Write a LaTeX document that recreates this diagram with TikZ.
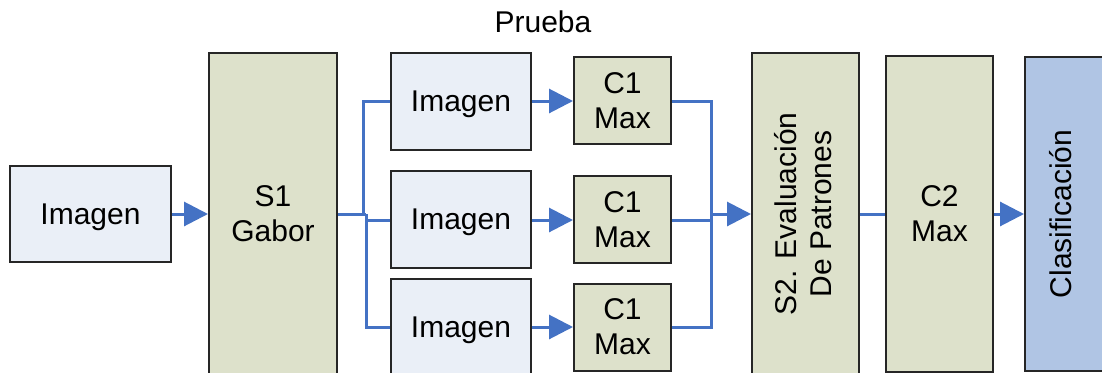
\documentclass[tikz,border=0pt]{standalone}
\usepackage{fontspec}
\setmainfont{Liberation Sans}
\usetikzlibrary{arrows.meta}
\definecolor{imgfill}{HTML}{EAEFF7}
\definecolor{stagefill}{HTML}{DDE1CB}
\definecolor{classfill}{HTML}{B0C5E4}
\definecolor{edgegray}{HTML}{262626}
\definecolor{wire}{HTML}{4472C4}
\tikzset{
  txt/.style={align=center, font=\fontsize{30}{35}\selectfont, text depth=-3pt},
  box/.style={draw=edgegray, line width=2pt, inner sep=0pt, txt},
  imgbox/.style={box, fill=imgfill},
  stagebox/.style={box, fill=stagefill},
  classbox/.style={box, fill=classfill},
  label/.style={inner sep=0pt, txt},
  wireline/.style={draw=wire, line width=3pt},
  flow/.style={wireline, -{Triangle[length=24pt,width=24pt]}},
}
\begin{document}
\begin{tikzpicture}[x=1pt,y=-1pt]
\useasboundingbox (0,0) rectangle (1102,372);
\clip (0,0) rectangle (1102,372);

% title
\node[label] (title) at (543,22) {Prueba};

% input image and Gabor stage
\node[imgbox, minimum width=161pt, minimum height=96pt] (img0) at (90.5,214) {Imagen};
\node[stagebox, minimum width=128pt, minimum height=322pt] (s1) at (273,214) {S1\\Gabor};

% three image branches
\node[imgbox, minimum width=140pt, minimum height=97pt] (i1) at (461,101.5) {Imagen};
\node[imgbox, minimum width=140pt, minimum height=97pt] (i2) at (461,219.5) {Imagen};
\node[imgbox, minimum width=140pt, minimum height=97pt] (i3) at (461,327) {Imagen};

% C1 max pooling
\node[stagebox, minimum width=97pt, minimum height=87pt] (c1a) at (622.5,100.5) {C1\\Max};
\node[stagebox, minimum width=97pt, minimum height=87pt] (c1b) at (622.5,219.5) {C1\\Max};
\node[stagebox, minimum width=97pt, minimum height=87pt] (c1c) at (622.5,327) {C1\\Max};

% S2, C2 and classifier
\node[stagebox, minimum width=107pt, minimum height=322pt] (s2) at (805.5,214) {};
\node[label, rotate=90] (s2text) at (803,214) {S2. Evaluación\\De Patrones};
\node[stagebox, minimum width=107pt, minimum height=316pt] (c2) at (939.5,214) {C2\\Max};
\node[classbox, minimum width=105pt, minimum height=314pt] (cl) at (1077.5,214) {};
\node[label, rotate=90] (cltext) at (1060,214) {Clasificación};

% connection points
\coordinate (ja) at (363,214);
\coordinate (jb) at (366,214);
\coordinate (jc) at (366,220);
\coordinate (jm) at (711,214);

% wiring
\draw[flow] (img0.east |- jb) -- (s1.west |- jb);
\draw[wireline] (s1.east |- jb) -- (jb);
\draw[wireline] (ja) |- (i1.west |- 0,101);
\draw[wireline] (jb) |- (i3.west |- 0,327);
\draw[wireline] (jc) -- (i2.west |- jc);

\draw[flow] (i1.east |- 0,101) -- (c1a.west |- 0,101);
\draw[flow] (i2.east |- jc) -- (c1b.west |- jc);
\draw[flow] (i3.east |- 0,327) -- (c1c.west |- 0,327);

\draw[wireline] (c1a.east |- 0,101) -| (jm);
\draw[wireline] (c1c.east |- 0,327) -| (jm);
\draw[wireline] (c1b.east |- jc) -- (jm |- jc);
\draw[flow] (jm) -- (s2.west |- jm);

\draw[wireline] (s2.east |- jm) -- (c2.west |- jm);
\draw[flow] (c2.east |- jm) -- (cl.west |- jm);
\end{tikzpicture}
\end{document}
